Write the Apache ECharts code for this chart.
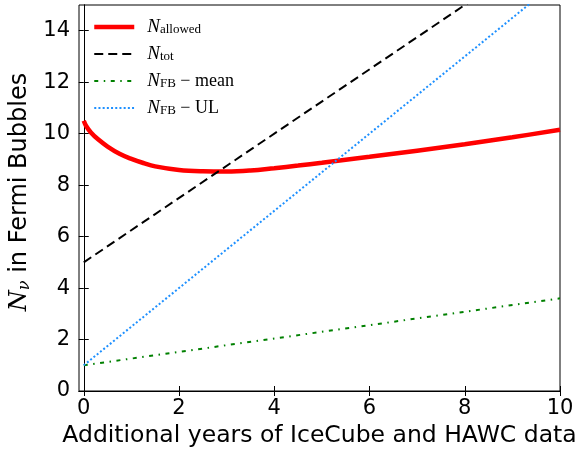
<!DOCTYPE html>
<html>
<head>
<meta charset="utf-8">
<script src="https://cdn.jsdelivr.net/npm/echarts@6/dist/echarts.min.js"></script>
<style>html,body{margin:0;padding:0;background:#fff;}#c{width:578px;height:457px;}</style>
</head>
<body>
<div id="c"></div>
<script>
// Data
const xTicks = [0, 2, 4, 6, 8, 10];
const yTicks = [0, 2, 4, 6, 8, 10, 12, 14];

const allowedX = [0, 0.05, 0.15, 0.3, 0.5, 0.75, 1, 1.25, 1.5, 2, 2.5, 3, 3.5, 4, 4.5, 5, 6, 7, 8, 9, 10];
const allowedY = [10.5, 10.3, 10.05, 9.78, 9.5, 9.22, 9.02, 8.86, 8.73, 8.59, 8.54, 8.53, 8.57, 8.66, 8.76, 8.87, 9.1, 9.34, 9.59, 9.86, 10.15];

const totX = [0, 10];
const totY = [5, 17.5];

const meanX = [0, 10];
const meanY = [1, 3.6];

const ulX = [0, 10];
const ulY = [1, 16];

const seriesNames = ['N_allowed', 'N_tot', 'N_FB - mean', 'N_FB - UL'];
const legendLabels = {
  'N_allowed': '{n|N}{s|allowed}',
  'N_tot': '{n|N}{s|tot}',
  'N_FB - mean': '{n|N}{s|FB}{t| − mean}',
  'N_FB - UL': '{n|N}{s|FB}{t| − UL}'
};
const colors = ['#ff0000', '#000000', '#008000', '#1e90ff'];
const widths = [4.5, 2, 2, 2];
const dashes = ['solid', [9, 5], [4, 5.5, 1.5, 5.5], [2, 2.2]];

function pairs(xs, ys) { return xs.map((x, i) => [x, ys[i]]); }

const chart = echarts.init(document.getElementById('c'), null, {renderer: 'canvas'});

const tickStyle = {show: true, inside: true, length: 5, lineStyle: {color: '#000', width: 1}};

const option = {
  animation: false,
  backgroundColor: '#fff',
  grid: {left: 79, right: 18, top: 5, bottom: 66, show: true, borderColor: '#000', borderWidth: 1,
         containLabel: false, outerBoundsMode: 'none'},
  legend: {
    orient: 'vertical',
    left: 92,
    top: 17.5,
    padding: 0,
    itemWidth: 40,
    itemHeight: 14,
    itemGap: 8,
    itemStyle: {opacity: 0},
    data: seriesNames.map((n, i) => ({name: n, itemStyle: {opacity: 0}, lineStyle: {color: colors[i], width: widths[i], type: dashes[i]}})),
    formatter: name => legendLabels[name],
    textStyle: {
      color: '#000',
      padding: [0, 0, 0, 8],
      rich: {
        n: {fontFamily: 'Liberation Serif', fontStyle: 'italic', fontSize: 19, lineHeight: 18, color: '#000'},
        s: {fontFamily: 'Liberation Serif', fontSize: 13, lineHeight: 8, verticalAlign: 'bottom', color: '#000'},
        t: {fontFamily: 'Liberation Serif', fontSize: 18, lineHeight: 18, color: '#000'}
      }
    }
  },
  xAxis: [{
    type: 'value', min: -0.1, max: 10,
    name: 'Additional years of IceCube and HAWC data',
    nameLocation: 'middle', nameGap: 29,
    nameTextStyle: {fontFamily: 'DejaVu Sans', fontSize: 23.5, color: '#000'},
    axisLine: {show: true, lineStyle: {color: '#000', width: 1}},
    axisTick: Object.assign({customValues: xTicks}, tickStyle),
    axisLabel: {customValues: xTicks, fontFamily: 'DejaVu Sans', fontSize: 21, color: '#000', margin: 7},
    splitLine: {show: false}
  }, {
    type: 'value', min: -0.1, max: 10, position: 'top',
    axisLine: {show: true, lineStyle: {color: '#000', width: 1}},
    axisTick: Object.assign({customValues: xTicks}, tickStyle),
    axisLabel: {show: false},
    splitLine: {show: false}
  }],
  yAxis: [{
    type: 'value', min: 0, max: 15,
    name: '{n|N}{s|ν}{t| in Fermi Bubbles}',
    nameLocation: 'middle', nameGap: 42, nameRotate: 90,
    nameTextStyle: {
      color: '#000',
      padding: [0, 0, 0, 12],
      rich: {
        n: {fontFamily: 'DejaVu Serif', fontStyle: 'italic', fontSize: 24, lineHeight: 26, color: '#000'},
        s: {fontFamily: 'DejaVu Serif', fontStyle: 'italic', fontSize: 16, lineHeight: 14, verticalAlign: 'bottom', color: '#000'},
        t: {fontFamily: 'DejaVu Sans', fontSize: 24, lineHeight: 26, color: '#000'}
      }
    },
    axisLine: {show: true, lineStyle: {color: '#000', width: 1}},
    axisTick: Object.assign({customValues: yTicks}, tickStyle),
    axisLabel: {customValues: yTicks, fontFamily: 'DejaVu Sans', fontSize: 21, color: '#000', margin: 9},
    splitLine: {show: false}
  }, {
    type: 'value', min: 0, max: 15, position: 'right',
    axisLine: {show: true, lineStyle: {color: '#000', width: 1}},
    axisTick: Object.assign({customValues: yTicks}, tickStyle),
    axisLabel: {show: false},
    splitLine: {show: false}
  }],
  series: [
    {name: seriesNames[0], type: 'line', data: pairs(allowedX, allowedY), smooth: 0.4, symbol: 'none',
     clip: true, lineStyle: {color: colors[0], width: widths[0]}, itemStyle: {color: colors[0]}},
    {name: seriesNames[1], type: 'line', data: pairs(totX, totY), symbol: 'none', clip: true,
     lineStyle: {color: colors[1], width: widths[1], type: dashes[1]}, itemStyle: {color: colors[1]}},
    {name: seriesNames[2], type: 'line', data: pairs(meanX, meanY), symbol: 'none', clip: true,
     lineStyle: {color: colors[2], width: widths[2], type: dashes[2]}, itemStyle: {color: colors[2]}},
    {name: seriesNames[3], type: 'line', data: pairs(ulX, ulY), symbol: 'none', clip: true,
     lineStyle: {color: colors[3], width: widths[3], type: dashes[3]}, itemStyle: {color: colors[3]}}
  ]
};
chart.setOption(option);
</script>
</body>
</html>
